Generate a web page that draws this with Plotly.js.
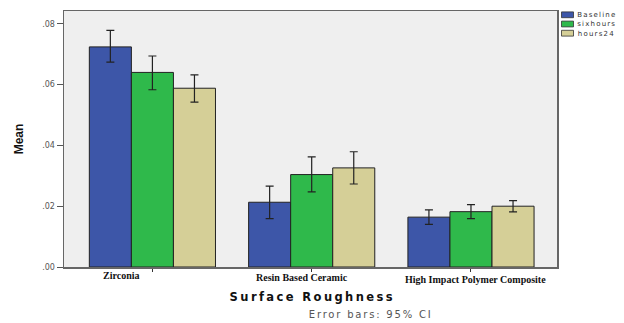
<!DOCTYPE html>
<html><head><meta charset="utf-8">
<script src="https://cdn.plot.ly/plotly-3.0.1.min.js"></script>
<style>
html,body{margin:0;padding:0;background:#fff;}
#chart{width:624px;height:323px;}
</style>
</head><body>
<div id="chart"></div>
<script>
// ---- data ----
const categories = ["Zirconia", "Resin Based Ceramic", "High Impact Polymer Composite"];
const seriesNames = ["Baseline", "sixhours", "hours24"];
const baselineMean = [0.0724, 0.0213, 0.0164];
const baselineUpper = [0.0778, 0.0266, 0.0188];
const baselineLower = [0.0674, 0.0159, 0.0140];
const sixhoursMean = [0.0640, 0.0304, 0.0182];
const sixhoursUpper = [0.0694, 0.0362, 0.0205];
const sixhoursLower = [0.0583, 0.0247, 0.0159];
const hours24Mean = [0.0588, 0.0326, 0.0200];
const hours24Upper = [0.0632, 0.0379, 0.0218];
const hours24Lower = [0.0542, 0.0273, 0.0181];
const yTickVals = [0, 0.02, 0.04, 0.06, 0.08];
const yTickText = [".00", ".02", ".04", ".06", ".08"];

const colors = ["#3d56a8", "#2fb94b", "#d5cf97"];
const means = [baselineMean, sixhoursMean, hours24Mean];
const uppers = [baselineUpper, sixhoursUpper, hours24Upper];
const lowers = [baselineLower, sixhoursLower, hours24Lower];

const traces = seriesNames.map((name, i) => ({
  type: "bar",
  name: name,
  x: categories,
  y: means[i],
  marker: {color: colors[i], line: {color: "#222", width: 1}},
  error_y: {
    type: "data", symmetric: false,
    array: uppers[i].map((u, k) => u - means[i][k]),
    arrayminus: means[i].map((m, k) => m - lowers[i][k]),
    color: "#222", thickness: 1.2, width: 4
  },
  showlegend: false
}));

const L = 64, R = 67, T = 11, B = 56;
const W = 624 - L - R, H = 323 - T - B;
function px2paperX(p) { return (p - L) / W; }
function px2paperY(p) { return (323 - B - p) / H; }

const labelShift = [-31, -10, 5];
const labelY = [-8, -10, -12];
const annotations = categories.map((c, i) => ({
  x: c, xref: "x", y: 0, yref: "paper", xshift: labelShift[i], yshift: labelY[i],
  text: "<b>" + c + "</b>", showarrow: false, xanchor: "center", yanchor: "middle",
  font: {family: "Liberation Serif", size: 10, color: "#111"}
}));
annotations.push({
  x: px2paperX(312), xref: "paper", y: px2paperY(297), yref: "paper", text: "<b>Surface Roughness</b>",
  showarrow: false, font: {family: "DejaVu Sans", size: 11.5, color: "#111"},
  xanchor: "center", yanchor: "middle"
});
annotations.push({
  text: "Error bars: 95% CI", showarrow: false, xref: "paper", yref: "paper",
  x: px2paperX(370), y: px2paperY(314), xanchor: "center", yanchor: "middle",
  font: {family: "DejaVu Sans", size: 10, color: "#555"}
});
const legendSpacing = 1.2;
const shapes = [];
const legendTop = 14.8;
seriesNames.forEach((n, i) => {
  const yc = legendTop + i * 9.2;
  shapes.push({type: "rect", xref: "paper", yref: "paper", layer: "above",
    x0: px2paperX(561.5), x1: px2paperX(573.5), y0: px2paperY(yc + 2.9), y1: px2paperY(yc - 2.9),
    fillcolor: colors[i], line: {color: "#333", width: 0.8}});
  annotations.push({text: n, showarrow: false, xref: "paper", yref: "paper",
    x: px2paperX(576.5 + legendSpacing * n.length / 2), y: px2paperY(yc + 0.3),
    xanchor: "left", yanchor: "middle", borderpad: 0,
    font: {family: "DejaVu Sans", size: 7, color: "#333"}});
});

const layout = {
  width: 624, height: 323,
  margin: {l: L, r: R, t: T, b: B},
  paper_bgcolor: "#fff", plot_bgcolor: "#efefef",
  barmode: "group", bargap: 0.208, bargroupgap: 0,
  font: {family: "DejaVu Sans", color: "#333"},
  xaxis: {
    type: "category", range: [-0.555, 2.54], showticklabels: false,
    ticks: "outside", ticklen: 3, tickcolor: "#333", tickwidth: 1,
    showline: true, linecolor: "#666", linewidth: 1.5, mirror: true,
    showgrid: false, zeroline: false
  },
  yaxis: {
    range: [0, 0.0842], tickvals: yTickVals, ticktext: yTickText,
    ticks: "outside", ticklen: 6, tickcolor: "#555", tickwidth: 1,
    tickfont: {family: "DejaVu Sans", size: 8, color: "#555"},
    showline: true, linecolor: "#666", linewidth: 1.5, mirror: true,
    showgrid: false, zeroline: false,
    title: {text: "<b>Mean</b>", font: {family: "Liberation Sans Narrow, Liberation Sans", size: 12, color: "#111"}, standoff: 16}
  },
  annotations: annotations,
  shapes: shapes,
  showlegend: false
};

Plotly.newPlot("chart", traces, layout, {staticPlot: true, displayModeBar: false}).then(() => {
  document.querySelectorAll(".annotation-text").forEach(t => {
    const s = t.textContent;
    if (s === "Surface Roughness") t.style.letterSpacing = "2.4px";
    else if (s === "Error bars: 95% CI") t.style.letterSpacing = "1.8px";
    else if (seriesNames.indexOf(s) >= 0) t.style.letterSpacing = legendSpacing + "px";
  });
});
</script>
</body></html>
